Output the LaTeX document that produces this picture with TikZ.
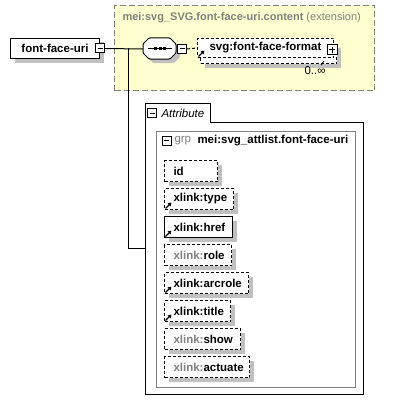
\documentclass[tikz,border=0pt]{standalone}
\usepackage{fontspec}
\setmainfont{Liberation Sans}
\usetikzlibrary{shadows,arrows.meta}

\newcommand{\diagfont}{\fontsize{11.5}{13}\selectfont}
% small reference arrow in the lower left corner of a box
\newcommand{\linkmark}[1]{\draw[line width=1.2pt,-{Triangle[length=3.5pt,width=4pt]}] ([shift={(1.5,-1.5)}]#1.south west) -- ++(6,-6);}

\begin{document}
\begin{tikzpicture}[x=1pt,y=-1pt,line width=1pt]
        % Colours
        \definecolor{extfill}{RGB}{255,255,208}
        \definecolor{greytext}{RGB}{128,128,128}
        \definecolor{shade}{RGB}{192,192,192}

        \tikzset{
            boxshadow/.style={drop shadow={shadow xshift=4pt,shadow yshift=-4pt,fill=shade,opacity=1}},
            dashbox/.style={dash pattern=on 3pt off 2pt},
            elem/.style={draw,fill=white,boxshadow,font=\diagfont\bfseries,inner sep=0pt},
            attr/.style={elem,anchor=north west,minimum height=21pt,inner xsep=9pt,text width=#1,align=left},
            minusbox/.style={draw,fill=white,minimum size=9pt,inner sep=0pt,
                path picture={\draw ([xshift=2pt]path picture bounding box.west) -- ([xshift=-2pt]path picture bounding box.east);}},
            plusbox/.style={draw,fill=white,minimum size=10pt,inner sep=0pt,
                path picture={\draw ([xshift=2pt]path picture bounding box.west) -- ([xshift=-2pt]path picture bounding box.east);
                              \draw ([yshift=-2pt]path picture bounding box.north) -- ([yshift=2pt]path picture bounding box.south);}},
            extbox/.style={draw=greytext,fill=extfill,dash pattern=on 6pt off 3pt,anchor=north west},
            label/.style={inner sep=0pt,anchor=west,font=\diagfont}
        }

        \useasboundingbox (0,0) rectangle (417,412);

        % Extension box
        \node[extbox,minimum width=260pt,minimum height=85pt] (ext) at (114,5) {};
        \node[label,text=greytext,font=\fontsize{11}{13}\selectfont] (exttitle) at (122,18) {\textbf{mei:svg\_SVG.font-face-uri.content} (extension)};

        % Root element
        \node[elem,minimum width=89pt,minimum height=20pt,anchor=north west] (ffu) at (10,38) {font-face-uri};
        \node[minusbox] (ffum) at (ffu.east) {};

        % Sequence
        \node[inner sep=0pt,minimum width=33pt,minimum height=21pt,anchor=north west] (seq) at (143,38) {};
        \draw[fill=white,boxshadow,rounded corners=1pt] (143,44) -- (149,38) -- (170,38) -- (176,44)
            -- (176,53) -- (170,59) -- (149,59) -- (143,53) -- cycle;
        \draw ([xshift=5pt]seq.west) -- ([xshift=-5pt]seq.east);
        \fill ([xshift=-6pt,yshift=-1.5pt]seq.center) rectangle ++(3,-3);
        \fill ([xshift=-1.5pt,yshift=-1.5pt]seq.center) rectangle ++(3,-3);
        \fill ([xshift=3pt,yshift=-1.5pt]seq.center) rectangle ++(3,-3);
        \node[minusbox,anchor=west] (seqm) at (seq.east) {};

        % svg:font-face-format (repeated)
        \node[elem,dashbox,minimum width=136pt,minimum height=19pt,anchor=north west] (fmtback) at (200,44) {};
        \node[draw,dashbox,fill=white,font=\diagfont\bfseries,inner sep=0pt,
              minimum width=136pt,minimum height=19pt,anchor=north west] (fmt) at (197,38) {svg:font-face-format};
        \linkmark{fmt}
        \node[plusbox] (fmtp) at ([xshift=-2pt,yshift=-2pt]fmt.east) {};
        \draw[line width=0.8pt] (324,61) -- (321,65);
        \node[label,anchor=east] (fmtocc) at (326,71) {0..∞};

        % Connectors
        \coordinate (fork) at (128,48);
        \coordinate (attrin) at (145,248);
        \draw (ffum.east) -- (seq.west);
        \draw[dashbox] (seqm.east) -- (fmt.west);
        \draw (fork) |- (attrin);

        % Attribute container
        \draw (145,103) -- (210,103) -- (210,122) -- (363,122) -- (363,394) -- (145,394) -- cycle;
        \node[minusbox] (attrm) at (152,113) {};
        \node[label,font=\diagfont\itshape] (attrlabel) at (161,113) {Attribute};

        % Attribute group
        \draw[greytext] (156,131) rectangle (355,387);
        \node[minusbox] (grpm) at (166.5,140.5) {};
        \node[label,text=greytext] (grplabel) at (174,141) {grp};
        \node[label,font=\diagfont\bfseries] (grpname) at (197,141) {mei:svg\_attlist.font-face-uri};

        % Attributes
        \node[attr=35pt,dashbox] (id) at (164,160) {id};
        \node[attr=51pt,dashbox] (type) at (164,188) {xlink:type};
        \linkmark{type}
        \node[attr=50pt] (href) at (164,216) {xlink:href};
        \linkmark{href}
        \node[attr=49pt,dashbox] (role) at (164,244) {\textcolor{greytext}{xlink:}role};
        \node[attr=66pt,dashbox] (arcrole) at (164,272) {xlink:arcrole};
        \linkmark{arcrole}
        \node[attr=48pt,dashbox] (title) at (164,300) {xlink:title};
        \linkmark{title}
        \node[attr=58pt,dashbox] (show) at (164,328) {\textcolor{greytext}{xlink:}show};
        \node[attr=67pt,dashbox] (actuate) at (164,356) {\textcolor{greytext}{xlink:}actuate};
\end{tikzpicture}
\end{document}
